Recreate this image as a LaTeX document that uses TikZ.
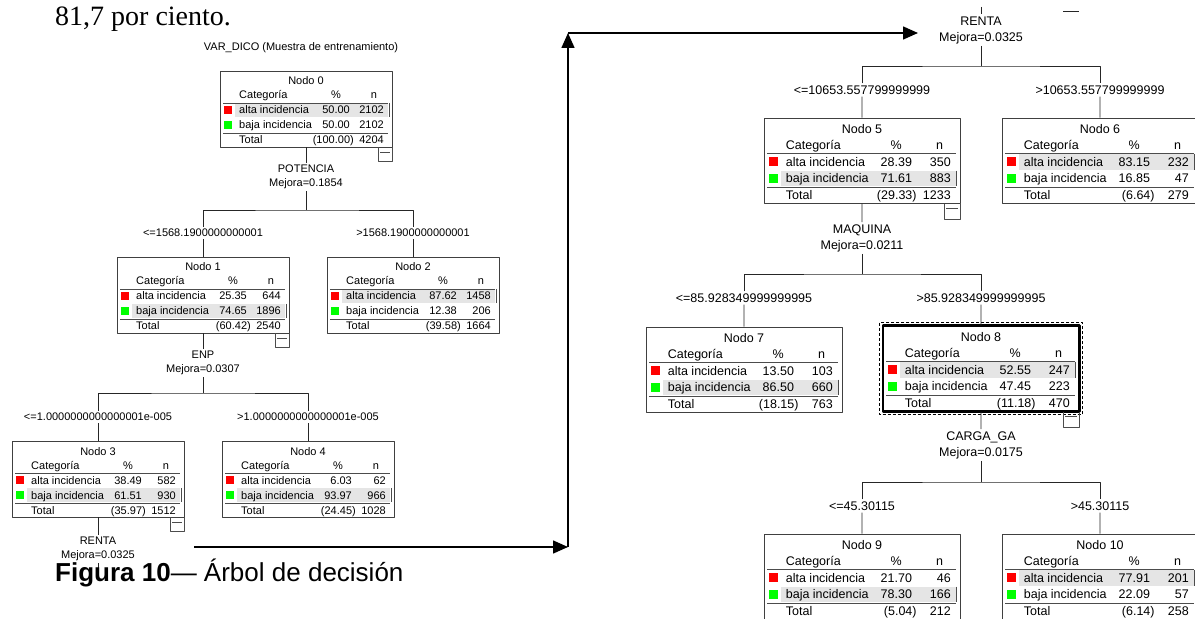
\documentclass[tikz,border=0pt]{standalone}
\usepackage{fontspec}
\setmainfont{Liberation Sans}
\newfontfamily\serifa{Liberation Serif}
\usetikzlibrary{arrows.meta}
\def\sx{1}\def\sy{1}
\def\tam{\fontsize{11bp}{14.5bp}\selectfont}
\tikzset{
  txt/.style={inner sep=0pt,font=\tam},
  izq/.style={txt,anchor=base west},
  der/.style={txt,anchor=base east},
  cen/.style={txt,anchor=base},
  caja/.style={draw=black!75,line width=0.8bp,inner sep=0pt,minimum width={172bp*\sx},minimum height={76bp*\sy}},
  borde/.style={draw=black!70,line width=0.8bp},
  sombra/.style={fill=black!10},
  rojo/.style={fill=red},
  verde/.style={fill=green},
  rama/.style={draw=black!85,line width=0.8bp},
  corte/.style={txt,inner sep=2bp},
  regla/.style={txt,inner sep=2bp,align=center},
  menos/.style={inner sep=0pt,minimum width={14bp*\sx},minimum height={14bp*\sy}},
  flecha/.style={line width=1.5bp},
}
% tabla de un nodo: posicion, numero, alta %, n, baja %, n, total %, n, fila marcada
\newcommand\nodo[9]{%
  \begin{scope}[shift={(#1)},xscale=\sx,yscale=\sy]
    \ifnum#9=1 \def\yh{39}\else\def\yh{54}\fi
    \fill[sombra] (15,\yh-7) rectangle (168,\yh+7);
    \draw[borde] (169,\yh-7) -- (169,\yh+7);
    \node[caja] (n#2) at (86,38) {};
    \node[cen] (n#2-tit) at (86,14) {Nodo #2};
    \node[izq] (n#2-cat) at (19,28) {Categoría};
    \node[cen] (n#2-pc) at (116,28) {\%};
    \node[cen] (n#2-nn) at (154,28) {n};
    \draw[borde] (3,32) -- (168,32);
    \fill[rojo] (4,35) rectangle (12,43);
    \node[izq] (n#2-a) at (19,43) {alta incidencia};
    \node[der] (n#2-ap) at (130,43) {#3};
    \node[der] (n#2-an) at (164,43) {#4};
    \fill[verde] (4,50) rectangle (12,58);
    \node[izq] (n#2-b) at (19,58) {baja incidencia};
    \node[der] (n#2-bp) at (130,58) {#5};
    \node[der] (n#2-bn) at (164,58) {#6};
    \draw[borde] (3,62) -- (168,62);
    \node[izq] (n#2-t) at (19,73) {Total};
    \node[der] (n#2-tp) at (134,73) {#7};
    \node[der] (n#2-tn) at (164,73) {#8};
  \end{scope}}
\newcommand\menos[1]{%
  \node[menos,anchor=north east] (m#1) at (n#1.south east) {};
  \draw[borde] (m#1.north west) |- (m#1.south east) -- (m#1.north east);
  \draw[borde] ([xshift=2bp,yshift=-5bp]m#1.north west) -- ([xshift=-2bp,yshift=-5bp]m#1.north east);}
\begin{document}
\begin{tikzpicture}[>={Triangle[length=15bp,width=13bp]},line join=bevel,x=1bp,y=-1bp]
\useasboundingbox (0,0) rectangle (1195,619);
\fill[white] (0,0) rectangle (1195,619);
%%
\node[anchor=base west,inner sep=0pt,font=\serifa\fontsize{28bp}{30bp}\selectfont] (texto) at (55,26) {81,7 por ciento.};
\node[cen] (titulo) at (301,51) {VAR\_DICO (Muestra de entrenamiento)};
%
\nodo{220,71}{0}{50.00}{2102}{50.00}{2102}{(100.00)}{4204}{1}
\nodo{117,257}{1}{25.35}{644}{74.65}{1896}{(60.42)}{2540}{2}
\nodo{327,257}{2}{87.62}{1458}{12.38}{206}{(39.58)}{1664}{1}
\nodo{12,441}{3}{38.49}{582}{61.51}{930}{(35.97)}{1512}{2}
\nodo{222,441}{4}{6.03}{62}{93.97}{966}{(24.45)}{1028}{2}
\menos{0}\menos{1}\menos{3}
%
\node[regla] (s0) at (306,177) {POTENCIA\\Mejora=0.1854};
\coordinate (b0) at (306,210);
\node[corte] (c1) at (203,233) {<=1568.1900000000001};
\node[corte] (c2) at (413,233) {>1568.1900000000001};
\draw[rama] (n0.south) -- (s0.north);
\draw[rama] (s0.south) -- (b0);
\draw[rama] (c1.north) |- (b0) -| (c2.north);
\draw[rama] (c1.south) -- (n1.north);
\draw[rama] (c2.south) -- (n2.north);
%
\node[regla] (s1) at (203,363) {ENP\\Mejora=0.0307};
\coordinate (b1) at (203,393);
\node[corte] (c3) at (98,417) {<=1.0000000000000001e-005};
\node[corte] (c4) at (308,417) {>1.0000000000000001e-005};
\draw[rama] (n1.south) -- (s1.north);
\draw[rama] (s1.south) -- (b1);
\draw[rama] (c3.north) |- (b1) -| (c4.north);
\draw[rama] (c3.south) -- (n3.north);
\draw[rama] (c4.south) -- (n4.north);
%
\node[regla] (s3) at (98,549) {RENTA\\Mejora=0.0325};
\coordinate (e3) at (98,571);
\draw[rama] (n3.south) -- (s3.north);
\draw[rama] (s3.south) -- (e3);
%
\node[anchor=base west,inner sep=0pt,font=\fontsize{26bp}{28bp}\selectfont] (pie) at (55,581) {\textbf{Figura 10}— Árbol de decisión};
%
\coordinate (f0) at (194,547);
\coordinate (f1) at (568,547);
\coordinate (f2) at (568,33);
\coordinate (f3) at (918,33);
\draw[flecha,->] (f0) -- (f1);
\draw[flecha,->] (f1) -- (f2);
\draw[flecha,->] (f2) -- (f3);
%%
\begin{scope}
\def\sx{1.14}\def\sy{1.12}
\def\tam{\fontsize{12.5bp}{16bp}\selectfont}
\nodo{764,118}{5}{28.39}{350}{71.61}{883}{(29.33)}{1233}{2}
\nodo{1002,118}{6}{83.15}{232}{16.85}{47}{(6.64)}{279}{1}
\nodo{646,327}{7}{13.50}{103}{86.50}{660}{(18.15)}{763}{2}
\nodo{883,326}{8}{52.55}{247}{47.45}{223}{(11.18)}{470}{1}
\nodo{764,534}{9}{21.70}{46}{78.30}{166}{(5.04)}{212}{2}
\nodo{1002,534}{10}{77.91}{201}{22.09}{57}{(6.14)}{258}{1}
\draw[line width=2.2bp] (n8.north west) rectangle (n8.south east);
\draw[line width=0.8bp,dash pattern=on 3bp off 2bp] ([xshift=-3bp,yshift=3bp]n8.north west) rectangle ([xshift=3bp,yshift=-3bp]n8.south east);
\menos{5}\menos{8}
%
\coordinate (t4) at (981,7);
\node[regla] (s4) at (981,30) {RENTA\\Mejora=0.0325};
\draw[rama] (t4) -- (s4.north);
\draw[rama] (1063,11) -- (1079,11);
\coordinate (b4) at (981,66);
\node[corte] (c5) at (862,90) {<=10653.557799999999};
\node[corte] (c6) at (1100,90) {>10653.557799999999};
\draw[rama] (s4.south) -- (b4);
\draw[rama] (c5.north) |- (b4) -| (c6.north);
\draw[rama] (c5.south) -- (n5.north);
\draw[rama] (c6.south) -- (n6.north);
%
\node[regla] (s5) at (862,238) {MAQUINA\\Mejora=0.0211};
\coordinate (b5) at (862,274);
\node[corte] (c7) at (744,298) {<=85.928349999999995};
\node[corte] (c8) at (981,298) {>85.928349999999995};
\draw[rama] (n5.south) -- (s5.north);
\draw[rama] (s5.south) -- (b5);
\draw[rama] (c7.north) |- (b5) -| (c8.north);
\draw[rama] (c7.south) -- (n7.north);
\draw[rama] (c8.south) -- (n8.north);
%
\node[regla] (s8) at (981,445) {CARGA\_GA\\Mejora=0.0175};
\coordinate (b8) at (981,482);
\node[corte] (c9) at (862,506) {<=45.30115};
\node[corte] (c10) at (1100,506) {>45.30115};
\draw[rama] (n8.south) -- (s8.north);
\draw[rama] (s8.south) -- (b8);
\draw[rama] (c9.north) |- (b8) -| (c10.north);
\draw[rama] (c9.south) -- (n9.north);
\draw[rama] (c10.south) -- (n10.north);
\end{scope}
%
\end{tikzpicture}
\end{document}
